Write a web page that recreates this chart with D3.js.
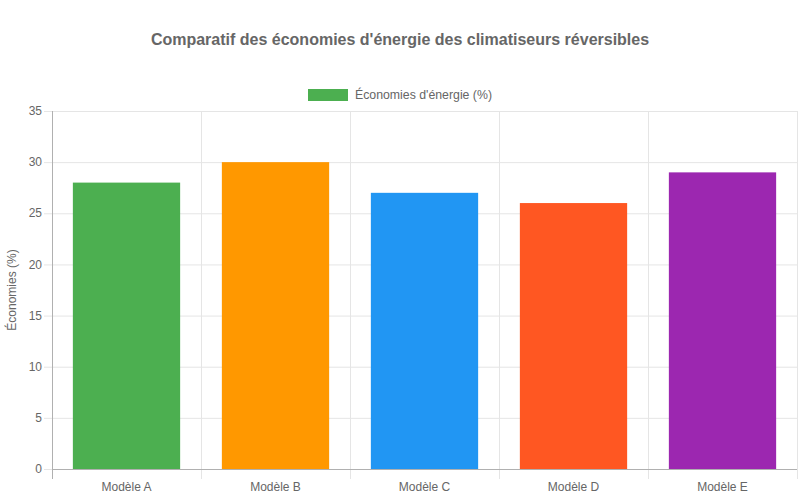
<!DOCTYPE html>
<html>
<head>
<meta charset="utf-8">
<script src="https://cdn.jsdelivr.net/npm/d3@7"></script>
<style>
  body { margin: 0; background: #fff; }
  text { font-family: "Liberation Sans", Arial, sans-serif; }
</style>
</head>
<body>
<svg id="chart" width="800" height="500"></svg>
<script>
const categories = ['Modèle A', 'Modèle B', 'Modèle C', 'Modèle D', 'Modèle E'];
const savings = [28, 30, 27, 26, 29];
const barColors = ['#4CAF50', '#FF9800', '#2196F3', '#FF5722', '#9C27B0'];
const yTicks = [0, 5, 10, 15, 20, 25, 30, 35];
const seriesName = "Économies d'énergie (%)";

const svg = d3.select('#chart');
const margin = { left: 52, right: 797, top: 111, bottom: 469 };

const x = d3.scaleBand()
  .domain(categories)
  .range([margin.left, margin.right])
  .paddingInner(0)
  .paddingOuter(0);

const y = d3.scaleLinear()
  .domain([0, 35])
  .range([margin.bottom, margin.top]);

// horizontal grid
svg.append('g')
  .selectAll('line')
  .data(yTicks)
  .enter()
  .append('line')
  .attr('x1', margin.left)
  .attr('x2', margin.right)
  .attr('y1', d => y(d) + 0.5)
  .attr('y2', d => y(d) + 0.5)
  .attr('stroke', '#e5e5e5');

// vertical grid at category edges, extended down as ticks
const edges = categories.map(c => x(c)).concat([margin.right]);
svg.append('g')
  .selectAll('line')
  .data(edges)
  .enter()
  .append('line')
  .attr('x1', d => Math.round(d) + 0.5)
  .attr('x2', d => Math.round(d) + 0.5)
  .attr('y1', margin.top)
  .attr('y2', margin.bottom + 10)
  .attr('stroke', '#e5e5e5');

// bars
const barW = x.bandwidth() * 0.72;
svg.append('g')
  .selectAll('rect')
  .data(savings)
  .enter()
  .append('rect')
  .attr('x', (d, i) => x(categories[i]) + (x.bandwidth() - barW) / 2)
  .attr('y', d => y(d))
  .attr('width', barW)
  .attr('height', d => y(0) - y(d))
  .attr('fill', (d, i) => barColors[i]);

// axis lines
svg.append('line')
  .attr('x1', margin.left + 0.5).attr('x2', margin.left + 0.5)
  .attr('y1', margin.top).attr('y2', margin.bottom + 10)
  .attr('stroke', '#b0b0b0');
svg.append('line')
  .attr('x1', margin.left - 8).attr('x2', margin.right)
  .attr('y1', margin.bottom + 0.5).attr('y2', margin.bottom + 0.5)
  .attr('stroke', '#b0b0b0');

// y tick marks + labels
svg.append('g')
  .selectAll('line')
  .data(yTicks)
  .enter()
  .append('line')
  .attr('x1', margin.left - 8)
  .attr('x2', margin.left)
  .attr('y1', d => y(d) + 0.5)
  .attr('y2', d => y(d) + 0.5)
  .attr('stroke', '#e5e5e5');

svg.append('g')
  .selectAll('text')
  .data(yTicks)
  .enter()
  .append('text')
  .attr('x', margin.left - 10)
  .attr('y', d => y(d))
  .attr('dy', '0.35em')
  .attr('text-anchor', 'end')
  .attr('font-size', 12)
  .attr('fill', '#666')
  .text(d => d);

// x labels
svg.append('g')
  .selectAll('text')
  .data(categories)
  .enter()
  .append('text')
  .attr('x', d => x(d) + x.bandwidth() / 2)
  .attr('y', margin.bottom + 22)
  .attr('text-anchor', 'middle')
  .attr('font-size', 12)
  .attr('fill', '#666')
  .text(d => d);

// y axis title
svg.append('text')
  .attr('transform', 'translate(16,' + (margin.top + margin.bottom) / 2 + ') rotate(-90)')
  .attr('text-anchor', 'middle')
  .attr('font-size', 12)
  .attr('fill', '#666')
  .text('Économies (%)');

// title
svg.append('text')
  .attr('x', 400)
  .attr('y', 45)
  .attr('text-anchor', 'middle')
  .attr('font-size', 16)
  .attr('font-weight', 'bold')
  .attr('fill', '#666')
  .text("Comparatif des économies d'énergie des climatiseurs réversibles");

// legend
const legend = svg.append('g');
legend.append('rect')
  .attr('x', 308).attr('y', 89)
  .attr('width', 40).attr('height', 12)
  .attr('fill', barColors[0]);
legend.append('text')
  .attr('x', 355).attr('y', 95)
  .attr('dy', '0.35em')
  .attr('font-size', 12.3)
  .attr('fill', '#666')
  .text(seriesName);
</script>
</body>
</html>
